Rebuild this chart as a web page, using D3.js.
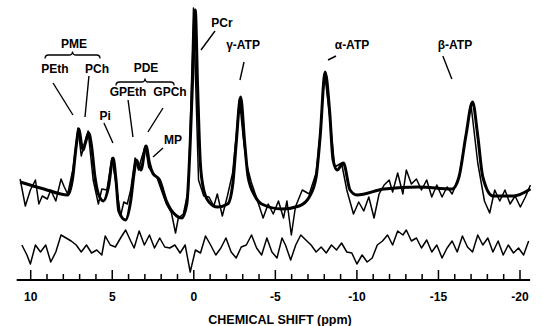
<!DOCTYPE html>
<html>
<head>
<meta charset="utf-8">
<script src="https://cdn.jsdelivr.net/npm/d3@7"></script>
<style>
  body { margin: 0; background: #fff; }
  text { font-family: "Liberation Sans", Arial, sans-serif; font-weight: bold; fill: #000; }
</style>
</head>
<body>
<div id="chart"></div>
<script>
// fitted spectrum [ppm, intensity a.u.]
const fitPoints = [
  [10.65, 48], [9.19, 41], [7.73, 35], [7.42, 53], [7.21, 84], [7.04, 101], [6.90, 87], [6.79, 80],
  [6.65, 87], [6.44, 97], [6.27, 84], [6.06, 53], [5.85, 36], [5.54, 29], [5.23, 43], [4.95, 72],
  [4.77, 50], [4.60, 19], [4.19, 10], [3.87, 29], [3.66, 57], [3.52, 70], [3.24, 60], [2.93, 84],
  [2.72, 67], [2.52, 57], [2.10, 50], [1.68, 29], [1.05, 14], [0.74, 12], [0.43, 26], [0.22, 87],
  [0.05, 162], [-0.09, 220], [-0.23, 145], [-0.40, 67], [-0.61, 40], [-0.93, 28], [-1.45, 23],
  [-2.08, 26], [-2.39, 46], [-2.60, 87], [-2.87, 133], [-3.12, 87], [-3.33, 53], [-3.75, 34],
  [-4.16, 26], [-5.41, 21], [-6.46, 24], [-7.08, 33], [-7.50, 53], [-7.75, 94], [-8.05, 158],
  [-8.33, 118], [-8.54, 70], [-8.79, 60], [-9.17, 67], [-9.58, 40], [-10.00, 35], [-11.67, 41],
  [-13.76, 43], [-15.84, 41], [-16.26, 53], [-16.68, 94], [-17.09, 128], [-17.41, 94],
  [-17.72, 53], [-18.34, 34], [-19.60, 34], [-20.64, 41]
];

// measured spectrum [ppm, intensity a.u.]
const rawPoints = [
  [10.65, 51], [10.33, 24], [10.02, 40], [9.71, 50], [9.50, 26], [9.29, 34], [8.98, 31], [8.77, 40],
  [8.46, 29], [8.14, 51], [7.94, 43], [7.73, 36], [7.42, 60], [7.10, 102], [6.90, 74], [6.69, 87],
  [6.48, 99], [6.17, 50], [5.85, 26], [5.64, 41], [5.33, 40], [5.02, 72], [4.71, 40], [4.49, 14],
  [4.29, 28], [4.08, 26], [3.87, 40], [3.60, 72], [3.39, 60], [3.24, 70], [2.97, 84], [2.77, 63],
  [2.52, 57], [2.27, 53], [1.99, 40], [1.68, 26], [1.37, 17], [1.12, -3], [0.95, 12], [0.64, 16],
  [0.33, 40], [0.17, 128], [0.02, 222], [-0.15, 128], [-0.29, 50], [-0.61, 34], [-0.93, 33],
  [-1.23, 24], [-1.44, 36], [-1.75, 14], [-2.06, 34], [-2.38, 57], [-2.60, 94], [-2.80, 131],
  [-3.02, 94], [-3.22, 67], [-3.52, 48], [-3.83, 33], [-4.25, 12], [-4.56, 26], [-4.87, 16],
  [-5.19, 29], [-5.50, 12], [-5.71, 29], [-5.98, -5], [-6.23, 23], [-6.65, 40], [-7.08, 36],
  [-7.50, 57], [-7.75, 97], [-8.02, 157], [-8.33, 114], [-8.64, 63], [-9.06, 67], [-9.38, 40],
  [-9.79, 16], [-10.11, 28], [-10.42, 19], [-10.73, 33], [-11.05, 12], [-11.36, 36], [-11.67, 45],
  [-11.98, 50], [-12.19, 38], [-12.50, 57], [-12.82, 36], [-13.03, 60], [-13.34, 46], [-13.65, 51],
  [-13.96, 40], [-14.28, 50], [-14.59, 33], [-14.90, 45], [-15.22, 33], [-15.53, 43], [-15.84, 36],
  [-16.26, 53], [-16.68, 94], [-16.99, 126], [-17.41, 67], [-17.82, 29], [-18.14, 17], [-18.45, 40],
  [-18.76, 29], [-19.08, 40], [-19.39, 26], [-19.70, 34], [-20.02, 23], [-20.33, 33], [-20.64, 45]
];

// residual (measured - fit) [ppm, intensity a.u.]
const residualPoints = [
  [10.54, 0], [10.23, -10], [10.02, -19], [9.71, 0], [9.40, -7], [9.08, 0], [8.77, -17], [8.46, -7],
  [8.14, 10], [7.83, 7], [7.52, 4], [7.21, 0], [6.90, -7], [6.58, 0], [6.27, -8], [5.95, -5],
  [5.64, -10], [5.43, 9], [5.12, 0], [4.81, -2], [4.49, 7], [4.18, 15], [3.87, 4], [3.66, -3],
  [3.35, 14], [3.03, 0], [2.72, 10], [2.41, -3], [2.09, 7], [1.78, -2], [1.47, -3], [1.16, 0],
  [0.84, -8], [0.53, 0], [0.22, -27], [-0.10, -5], [-0.41, -8], [-0.72, 9], [-1.03, 0], [-1.35, -10],
  [-1.66, -3], [-1.97, 7], [-2.29, -7], [-2.60, -13], [-2.91, -2], [-3.22, 0], [-3.54, 10],
  [-3.85, -3], [-4.16, -10], [-4.48, 7], [-4.79, -7], [-5.10, -13], [-5.41, 7], [-5.62, 0],
  [-5.94, -15], [-6.25, 0], [-6.56, 10], [-6.87, 5], [-7.19, 0], [-7.50, -7], [-7.81, -2],
  [-8.12, -8], [-8.44, 0], [-8.75, -5], [-9.06, 2], [-9.38, -7], [-9.69, -8], [-10.00, -19],
  [-10.32, -10], [-10.63, -17], [-10.94, -13], [-11.25, 0], [-11.57, 4], [-11.88, 10], [-12.19, 0],
  [-12.50, 14], [-12.82, 10], [-13.03, 15], [-13.34, 4], [-13.65, 7], [-13.96, -3], [-14.28, 5],
  [-14.59, -7], [-14.90, 0], [-15.22, -13], [-15.53, -3], [-15.84, 4], [-16.15, -7], [-16.47, 9],
  [-16.78, -2], [-17.09, -7], [-17.41, 10], [-17.72, 0], [-18.03, 7], [-18.34, -7], [-18.66, 4],
  [-18.97, -10], [-19.28, 0], [-19.60, -8], [-19.91, -3], [-20.22, -10], [-20.53, 4]
];

// peak labels: text, label position [ppm, a.u.], leader line [ppm1, a.u.1, ppm2, a.u.2]
const peakLabels = [
  { text: "PEth", at: [8.51, 161], line: [8.63, 147, 7.41, 115] },
  { text: "PCh", at: [5.93, 161], line: [6.43, 154, 6.67, 113] },
  { text: "Pi", at: [5.44, 114], line: [5.51, 107, 4.96, 87] },
  { text: "GPEth", at: [4.03, 138], line: [4.03, 130, 3.73, 93] },
  { text: "GPCh", at: [1.46, 138], line: [1.89, 122, 2.81, 98] },
  { text: "MP", at: [1.28, 90], line: [1.89, 82, 2.50, 73] },
  { text: "PCr", at: [-1.73, 207], line: [-1.30, 199, -0.44, 180] },
  { text: "γ-ATP", at: [-3.02, 185], line: [-3.08, 168, -2.83, 150] },
  { text: "α-ATP", at: [-9.70, 185], line: [-8.72, 174, -8.23, 170] },
  { text: "β-ATP", at: [-16.01, 185], line: [-15.27, 174, -15.82, 151] }
];

// grouping braces: text, label position, brace span [ppm from, ppm to, a.u.]
const groups = [
  { text: "PME", at: [7.35, 186], brace: [9.12, 5.75, 175] },
  { text: "PDE", at: [2.93, 162], brace: [4.77, 1.21, 148] }
];

const majorTicks = [10, 5, 0, -5, -10, -15, -20];
const minorTicks = d3.range(10, -21, -1).filter(d => d % 5 !== 0);

const width = 543, height = 326;
const residualOffset = -15;

const svg = d3.select("#chart").append("svg")
  .attr("width", width)
  .attr("height", height);

const x = d3.scaleLinear()
  .domain([10, -20])
  .range([30.7, 520]);

const y = d3.scaleLinear()
  .domain([0, 230])
  .range([230, 0]);

const axisY = 280;

// spectra
const rawLine = d3.line()
  .x(d => x(d[0]))
  .y(d => y(d[1]));

const fitLine = d3.line()
  .x(d => x(d[0]))
  .y(d => y(d[1]))
  .curve(d3.curveMonotoneX);

const resLine = d3.line()
  .x(d => x(d[0]))
  .y(d => y(d[1] + residualOffset));

svg.append("path")
  .datum(rawPoints)
  .attr("d", rawLine)
  .attr("fill", "none")
  .attr("stroke", "#000")
  .attr("stroke-width", 1.5)
  .attr("stroke-linejoin", "round");

svg.append("path")
  .datum(fitPoints)
  .attr("d", fitLine)
  .attr("fill", "none")
  .attr("stroke", "#000")
  .attr("stroke-width", 3)
  .attr("stroke-linejoin", "round");

svg.append("path")
  .datum(residualPoints)
  .attr("d", resLine)
  .attr("fill", "none")
  .attr("stroke", "#000")
  .attr("stroke-width", 1.5)
  .attr("stroke-linejoin", "round");

// x axis (ticks pointing up)
const g = svg.append("g").attr("transform", `translate(0,${axisY})`);

g.append("line")
  .attr("x1", x(10.86)).attr("x2", x(-20.62))
  .attr("stroke", "#000").attr("stroke-width", 2);

g.selectAll(".minor")
  .data(minorTicks)
  .enter().append("line")
  .attr("x1", d => x(d)).attr("x2", d => x(d))
  .attr("y1", 0).attr("y2", -6)
  .attr("stroke", "#000").attr("stroke-width", 1.5);

g.selectAll(".major")
  .data(majorTicks)
  .enter().append("line")
  .attr("x1", d => x(d)).attr("x2", d => x(d))
  .attr("y1", 0).attr("y2", -10)
  .attr("stroke", "#000").attr("stroke-width", 1.5);

g.selectAll(".ticklabel")
  .data(majorTicks)
  .enter().append("text")
  .attr("x", d => x(d))
  .attr("y", 21)
  .attr("text-anchor", "middle")
  .style("font-size", "12px")
  .text(d => d < 0 ? "-" + Math.abs(d) : d);

svg.append("text")
  .attr("x", 280)
  .attr("y", 324)
  .attr("text-anchor", "middle")
  .style("font-size", "12.5px")
  .text("CHEMICAL SHIFT (ppm)");

// annotations
svg.selectAll(".leader")
  .data(peakLabels)
  .enter().append("line")
  .attr("x1", d => x(d.line[0])).attr("y1", d => y(d.line[1]))
  .attr("x2", d => x(d.line[2])).attr("y2", d => y(d.line[3]))
  .attr("stroke", "#000").attr("stroke-width", 1.4);

svg.selectAll(".plabel")
  .data(peakLabels.concat(groups))
  .enter().append("text")
  .attr("x", d => x(d.at[0]))
  .attr("y", d => y(d.at[1]))
  .attr("dy", "0.35em")
  .attr("text-anchor", "middle")
  .style("font-size", "12px")
  .text(d => d.text);

// curly braces over the grouped peaks
function bracePath(d) {
  const x0 = x(d.brace[0]), x1 = x(d.brace[1]), yb = y(d.brace[2]);
  const xm = (x0 + x1) / 2, r = 3.5;
  const p = d3.path();
  p.moveTo(x0, yb + r);
  p.quadraticCurveTo(x0, yb, x0 + r, yb);
  p.lineTo(xm - r, yb);
  p.quadraticCurveTo(xm, yb, xm, yb - r);
  p.quadraticCurveTo(xm, yb, xm + r, yb);
  p.lineTo(x1 - r, yb);
  p.quadraticCurveTo(x1, yb, x1, yb + r);
  return p.toString();
}

svg.selectAll(".brace")
  .data(groups)
  .enter().append("path")
  .attr("d", bracePath)
  .attr("fill", "none")
  .attr("stroke", "#000")
  .attr("stroke-width", 1.3);
</script>
</body>
</html>
